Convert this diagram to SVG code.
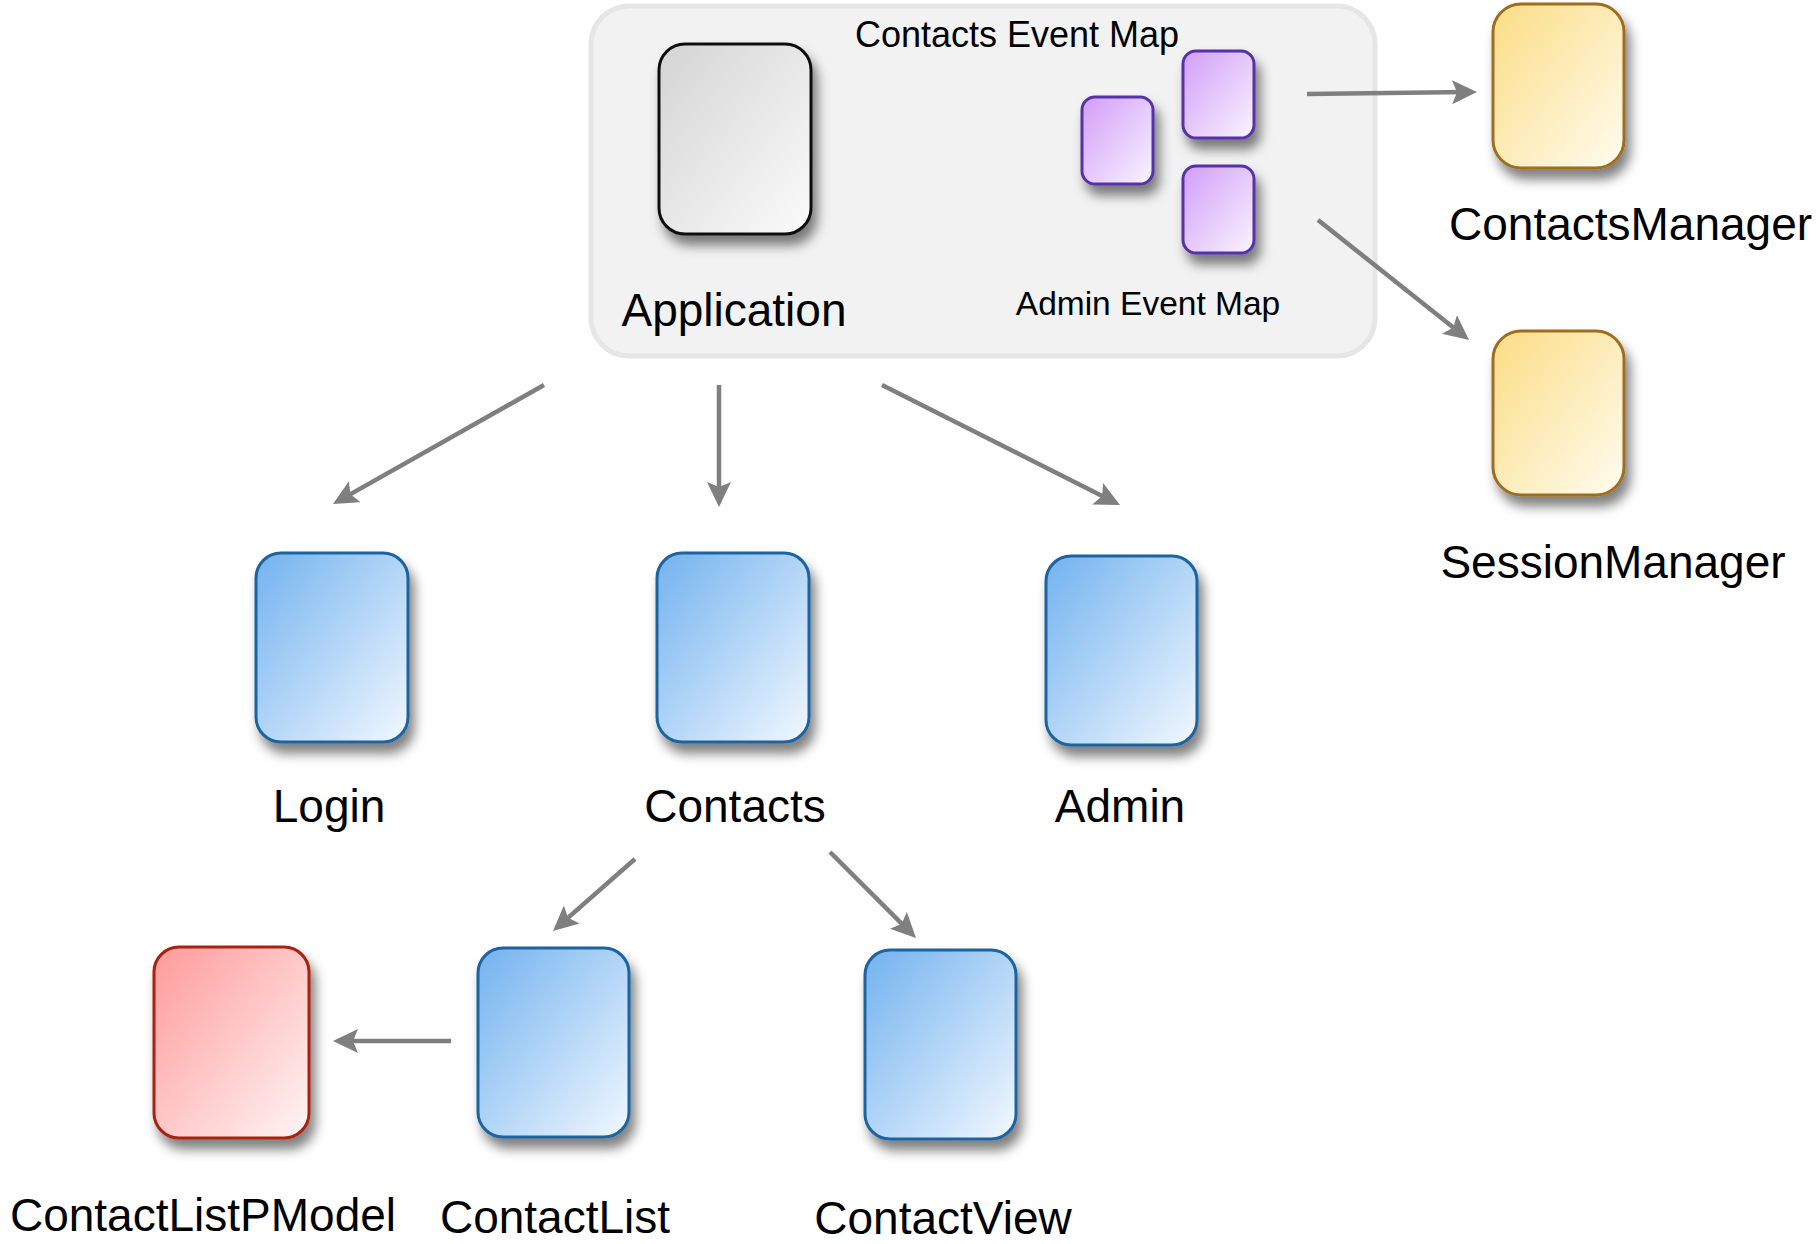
<svg xmlns="http://www.w3.org/2000/svg" width="1819" height="1244" viewBox="0 0 1819 1244">
<style>
  .lbl { font-family: "Liberation Sans", Arial, Helvetica, sans-serif; fill: #000; }
  .big { font-size: 46px; }
  .conn { stroke: #7f7f7f; stroke-width: 4.5; fill: none; marker-end: url(#arrow); }
  .blue { fill: url(#gBlue); stroke: #1b64a0; stroke-width: 3; filter: url(#shadow); }
  .red { fill: url(#gRed); stroke: #a8200e; stroke-width: 3; filter: url(#shadow); }
  .yellow { fill: url(#gYellow); stroke: #a06d1c; stroke-width: 3; filter: url(#shadow); }
  .purple { fill: url(#gPurple); stroke: #5430a8; stroke-width: 3; filter: url(#shadow); }
  .gray { fill: url(#gGray); stroke: #111; stroke-width: 3; filter: url(#shadow); }
</style>
<defs>
  <linearGradient id="gBlue" x1="0" y1="0" x2="1" y2="1">
    <stop offset="0" stop-color="#72b2ef"/>
    <stop offset="1" stop-color="#f2f8ff"/>
  </linearGradient>
  <linearGradient id="gRed" x1="0" y1="0" x2="1" y2="1">
    <stop offset="0" stop-color="#ff9a9a"/>
    <stop offset="1" stop-color="#fff5f5"/>
  </linearGradient>
  <linearGradient id="gYellow" x1="0" y1="0" x2="1" y2="1">
    <stop offset="0" stop-color="#fbdd85"/>
    <stop offset="1" stop-color="#fffcf0"/>
  </linearGradient>
  <linearGradient id="gPurple" x1="0" y1="0" x2="1" y2="1">
    <stop offset="0" stop-color="#d29df8"/>
    <stop offset="1" stop-color="#f9f4ff"/>
  </linearGradient>
  <linearGradient id="gGray" x1="0" y1="0" x2="1" y2="1">
    <stop offset="0" stop-color="#d4d4d4"/>
    <stop offset="1" stop-color="#fbfbfb"/>
  </linearGradient>
  <filter id="shadow" x="-30%" y="-30%" width="170%" height="170%">
    <feDropShadow dx="5" dy="10" stdDeviation="6" flood-color="#000" flood-opacity="0.5"/>
  </filter>
  <marker id="arrow" viewBox="0 0 25 24" refX="15" refY="12" markerWidth="25" markerHeight="24" markerUnits="userSpaceOnUse" orient="auto">
    <path d="M0,0 L25,12 L0,24 L5,12 Z" fill="#7f7f7f"/>
  </marker>
</defs>

<g id="container">
  <rect x="591" y="6" width="784" height="350" rx="38" ry="38" fill="#f2f2f2" stroke="#e6e6e6" stroke-width="5"/>
</g>

<g id="Application">
  <rect class="gray" x="659" y="44" width="152" height="190" rx="26" ry="26"/>
  <text class="lbl big" x="734" y="326" text-anchor="middle">Application</text>
</g>

<g id="ContactsEventMap">
  <rect class="purple" x="1183" y="51" width="71" height="87" rx="13" ry="13"/>
  <text class="lbl" x="1017" y="47" font-size="36" text-anchor="middle">Contacts Event Map</text>
</g>
<g id="EventMapBox2">
  <rect class="purple" x="1082" y="97" width="71" height="87" rx="13" ry="13"/>
</g>
<g id="AdminEventMap">
  <rect class="purple" x="1183" y="166" width="71" height="87" rx="13" ry="13"/>
  <text class="lbl" x="1148" y="315" font-size="33.5" text-anchor="middle">Admin Event Map</text>
</g>

<g id="ContactsManager">
  <rect class="yellow" x="1493" y="4" width="131" height="164" rx="28" ry="28"/>
  <text class="lbl big" x="1449" y="240">ContactsManager</text>
</g>

<g id="SessionManager">
  <rect class="yellow" x="1493" y="331" width="131" height="164" rx="28" ry="28"/>
  <text class="lbl big" x="1613" y="578" text-anchor="middle">SessionManager</text>
</g>

<g id="Login">
  <rect class="blue" x="256" y="553" width="152" height="189" rx="25" ry="25"/>
  <text class="lbl big" x="329" y="822" text-anchor="middle">Login</text>
</g>

<g id="Contacts">
  <rect class="blue" x="657" y="553" width="152" height="189" rx="25" ry="25"/>
  <text class="lbl big" x="735" y="822" text-anchor="middle">Contacts</text>
</g>

<g id="Admin">
  <rect class="blue" x="1046" y="556" width="151" height="189" rx="25" ry="25"/>
  <text class="lbl big" x="1120" y="822" text-anchor="middle">Admin</text>
</g>

<g id="ContactListPModel">
  <rect class="red" x="154" y="947" width="155" height="191" rx="25" ry="25"/>
  <text class="lbl big" x="203" y="1231" text-anchor="middle">ContactListPModel</text>
</g>

<g id="ContactList">
  <rect class="blue" x="478" y="948" width="151" height="189" rx="25" ry="25"/>
  <text class="lbl big" x="555" y="1233" text-anchor="middle">ContactList</text>
</g>

<g id="ContactView">
  <rect class="blue" x="865" y="950" width="151" height="189" rx="25" ry="25"/>
  <text class="lbl big" x="943" y="1234" text-anchor="middle">ContactView</text>
</g>

<g id="connectors">
  <line class="conn" x1="1307" y1="94" x2="1467" y2="92.1"/>
  <line class="conn" x1="1318" y1="220" x2="1461.2" y2="333.8"/>
  <line class="conn" x1="544" y1="385" x2="341.7" y2="499.1"/>
  <line class="conn" x1="719" y1="385" x2="719" y2="497"/>
  <line class="conn" x1="882" y1="385" x2="1111.1" y2="500.5"/>
  <line class="conn" x1="635" y1="859" x2="560.5" y2="924.4"/>
  <line class="conn" x1="830" y1="852" x2="908.9" y2="930.9"/>
  <line class="conn" x1="451" y1="1041" x2="343" y2="1041"/>
</g>
</svg>
